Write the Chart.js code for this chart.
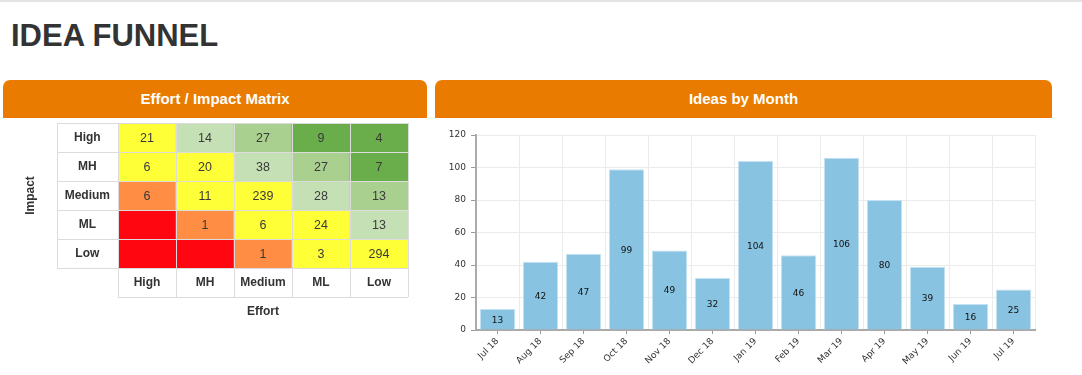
<!DOCTYPE html>
<html>
<head>
<meta charset="utf-8">
<title>Idea Funnel</title>
<script src="https://cdn.jsdelivr.net/npm/chart.js@4.4.1/dist/chart.umd.min.js"></script>
<style>
    html, body {
        margin: 0;
        padding: 0;
        background: #fff;
    }
    body {
        position: relative;
        width: 1082px;
        height: 375px;
        overflow: hidden;
        font-family: "Liberation Sans", Arial, Helvetica, sans-serif;
        border-top: 2px solid #e4e4e4;
        box-sizing: border-box;
    }
    .page-title {
        position: absolute;
        left: 11px;
        top: 18px;
        margin: 0;
        font-size: 31px;
        line-height: 31px;
        font-weight: bold;
        color: #333;
    }
    .panel-head {
        position: absolute;
        top: 78px;
        height: 38px;
        line-height: 38px;
        background: #e97c00;
        border-radius: 7px 7px 0 0;
        color: #fff;
        font-size: 15px;
        font-weight: bold;
        text-align: center;
    }
    canvas {
        position: absolute;
    }
</style>
</head>
<body>
    <h1 class="page-title">IDEA FUNNEL</h1>

    <div class="panel-head" style="left:3px; width:424px;">Effort / Impact Matrix</div>
    <div class="panel-head" style="left:435px; width:617px;">Ideas by Month</div>

    <canvas id="matrixChart" width="427" height="210" style="left:0; top:116px;"></canvas>
    <canvas id="monthChart" width="617" height="257" style="left:435px; top:116px;"></canvas>

<script>
// ==================== DATOS ====================

// Matriz esfuerzo / impacto
const effortLabels = ['High', 'MH', 'Medium', 'ML', 'Low'];
const impactLabels = ['High', 'MH', 'Medium', 'ML', 'Low'];
const matrixCounts = [
    [21, 14, 27, 9, 4],
    [6, 20, 38, 27, 7],
    [6, 11, 239, 28, 13],
    [null, 1, 6, 24, 13],
    [null, null, 1, 3, 294]
];

// Ideas por mes
const monthLabels = ['Jul 18', 'Aug 18', 'Sep 18', 'Oct 18', 'Nov 18', 'Dec 18', 'Jan 19',
    'Feb 19', 'Mar 19', 'Apr 19', 'May 19', 'Jun 19', 'Jul 19'];
const ideaCounts = [13, 42, 47, 99, 49, 32, 104, 46, 106, 80, 39, 16, 25];

// ==================== ESTILOS ====================

const RED = '#ff0611';
const ORANGE = '#ff8d43';
const YELLOW = '#ffff38';
const GREEN_LIGHT = '#c6e0b5';
const GREEN_MID = '#a9d08e';
const GREEN_DARK = '#6aad4b';

// colores de cada celda (fila = impacto, columna = esfuerzo)
const matrixColors = [
    [YELLOW, GREEN_LIGHT, GREEN_MID, GREEN_DARK, GREEN_DARK],
    [YELLOW, YELLOW, GREEN_LIGHT, GREEN_MID, GREEN_DARK],
    [ORANGE, YELLOW, YELLOW, GREEN_LIGHT, GREEN_MID],
    [RED, ORANGE, YELLOW, YELLOW, GREEN_LIGHT],
    [RED, RED, ORANGE, YELLOW, YELLOW]
];

const SANS = '"Liberation Sans", Arial, Helvetica, sans-serif';
const VERDANA = '"DejaVu Sans", Verdana, sans-serif';
const TEXT = '#333';
const FRAME = '#dcdcdc';
const LABEL_COL = 61;   // ancho de la columna de etiquetas de impacto
const HEADER_ROW = 29;  // alto de la fila de etiquetas de esfuerzo

// ==================== PLUGINS ====================

// Bordes de la tabla (celdas y encabezados)
const matrixFrame = {
    id: 'matrixFrame',
    afterDatasetsDraw(chart) {
        const { ctx, chartArea: a, scales: { x, y } } = chart;
        const px = v => Math.round(v) + 0.5;
        const bottom = a.bottom + HEADER_ROW;

        ctx.save();
        ctx.strokeStyle = FRAME;
        ctx.lineWidth = 1;
        ctx.beginPath();
        for (let r = 0; r <= impactLabels.length; r++) {
            const yy = px(y.getPixelForValue(r));
            ctx.moveTo(a.left - LABEL_COL, yy);
            ctx.lineTo(a.right, yy);
        }
        ctx.moveTo(a.left, px(bottom));
        ctx.lineTo(a.right, px(bottom));
        for (let c = 0; c <= effortLabels.length; c++) {
            const xx = px(x.getPixelForValue(c - 0.5));
            ctx.moveTo(xx, a.top);
            ctx.lineTo(xx, bottom);
        }
        ctx.moveTo(px(a.left - LABEL_COL), a.top);
        ctx.lineTo(px(a.left - LABEL_COL), a.bottom);
        ctx.stroke();
        ctx.restore();
    }
};

// Número dentro de cada celda
const cellLabels = {
    id: 'cellLabels',
    afterDatasetsDraw(chart) {
        const { ctx } = chart;
        ctx.save();
        ctx.font = '12.5px ' + SANS;
        ctx.fillStyle = '#3a3a3a';
        ctx.textAlign = 'center';
        ctx.textBaseline = 'middle';
        chart.data.datasets.forEach((ds, i) => {
            chart.getDatasetMeta(i).data.forEach((cell, j) => {
                const v = ds.counts[j];
                if (v === null) return;
                ctx.fillText(v, cell.x, (cell.y + cell.base) / 2 + 1);
            });
        });
        ctx.restore();
    }
};

// Valor en el centro de cada barra
const barValueLabels = {
    id: 'barValueLabels',
    afterDatasetsDraw(chart) {
        const { ctx } = chart;
        ctx.save();
        ctx.font = '9px ' + VERDANA;
        ctx.fillStyle = '#111';
        ctx.textAlign = 'center';
        ctx.textBaseline = 'middle';
        const ds = chart.data.datasets[0];
        chart.getDatasetMeta(0).data.forEach((bar, i) => {
            ctx.fillText(ds.data[i], bar.x, (bar.y + bar.base) / 2 + 1);
        });
        ctx.restore();
    }
};

// ==================== MATRIZ ====================

function createMatrixChart(canvasEl) {
    const boldLabel = { family: SANS, size: 12, weight: 'bold' };

    // una serie por fila de impacto; cada celda ocupa su fila completa
    const datasets = impactLabels.map((impact, i) => ({
        label: impact,
        data: effortLabels.map(() => [i, i + 1]),
        counts: matrixCounts[i],
        backgroundColor: matrixColors[i],
        borderWidth: 0,
        categoryPercentage: 1,
        barPercentage: 1
    }));

    return new Chart(canvasEl.getContext('2d'), {
        type: 'bar',
        data: { labels: effortLabels, datasets },
        options: {
            responsive: false,
            animation: false,
            layout: { padding: { top: 5, right: 19, bottom: 8, left: 0 } },
            plugins: {
                legend: { display: false },
                tooltip: { enabled: false }
            },
            scales: {
                x: {
                    stacked: true,
                    grid: { display: false, drawTicks: false, tickLength: 0 },
                    border: { display: false },
                    ticks: { font: boldLabel, color: TEXT, padding: 7 },
                    title: {
                        display: true,
                        text: 'Effort',
                        font: boldLabel,
                        color: TEXT,
                        padding: { top: 0, bottom: 1 }
                    },
                    afterFit: s => {
                        s.height = 52;
                        s.paddingLeft = 0;
                        s.paddingRight = 0;
                    }
                },
                y: {
                    type: 'linear',
                    reverse: true,
                    min: 0,
                    max: impactLabels.length,
                    grid: { display: false, drawTicks: false, tickLength: 0 },
                    border: { display: false },
                    afterBuildTicks: s => {
                        s.ticks = impactLabels.map((_, i) => ({ value: i + 0.5 }));
                    },
                    ticks: {
                        font: boldLabel,
                        color: TEXT,
                        crossAlign: 'center',
                        padding: 8,
                        callback: value => impactLabels[value - 0.5]
                    },
                    title: {
                        display: true,
                        text: 'Impact',
                        font: boldLabel,
                        color: TEXT,
                        padding: { top: 23, bottom: 0 }
                    },
                    afterFit: s => {
                        s.width = 118;
                        // las etiquetas quedan dentro de sus filas: sin margen extra
                        s.paddingTop = 0;
                        s.paddingBottom = 0;
                    }
                }
            }
        },
        plugins: [matrixFrame, cellLabels]
    });
}

// ==================== IDEAS POR MES ====================

function createMonthChart(canvasEl) {
    const tickFont = { family: VERDANA, size: 9 };
    const gridColor = '#ebebeb';

    return new Chart(canvasEl.getContext('2d'), {
        type: 'bar',
        data: {
            labels: monthLabels,
            datasets: [{
                label: 'Ideas',
                data: ideaCounts,
                backgroundColor: '#88c3e1',
                borderColor: '#c4e2f2',
                borderWidth: { top: 1, left: 1, right: 1, bottom: 0 },
                borderSkipped: 'start',
                categoryPercentage: 1,
                barPercentage: 0.82
            }]
        },
        options: {
            responsive: false,
            animation: false,
            layout: { padding: { top: 17, right: 17, bottom: 0, left: 0 } },
            plugins: {
                legend: { display: false },
                tooltip: { enabled: false }
            },
            scales: {
                x: {
                    offset: true,
                    grid: { offset: false, drawOnChartArea: false, tickLength: 4, color: '#9a9a9a' },
                    border: { color: '#aaa', width: 2 },
                    ticks: {
                        font: tickFont,
                        color: TEXT,
                        minRotation: 45,
                        maxRotation: 45,
                        autoSkip: false,
                        padding: 2
                    },
                    afterFit: s => { s.height = 45; }
                },
                // líneas verticales entre meses
                xGrid: {
                    type: 'category',
                    position: 'top',
                    offset: true,
                    grid: { offset: true, drawTicks: false, color: gridColor },
                    border: { display: false },
                    ticks: { display: false }
                },
                y: {
                    min: 0,
                    max: 120,
                    ticks: { stepSize: 20, font: tickFont, color: TEXT, padding: 5 },
                    grid: { color: gridColor, tickColor: '#9a9a9a', tickLength: 5 },
                    border: { color: '#aaa', width: 2 },
                    afterFit: s => { s.width = 41; }
                }
            }
        },
        plugins: [barValueLabels]
    });
}

createMatrixChart(document.getElementById('matrixChart'));
createMonthChart(document.getElementById('monthChart'));
</script>
</body>
</html>
